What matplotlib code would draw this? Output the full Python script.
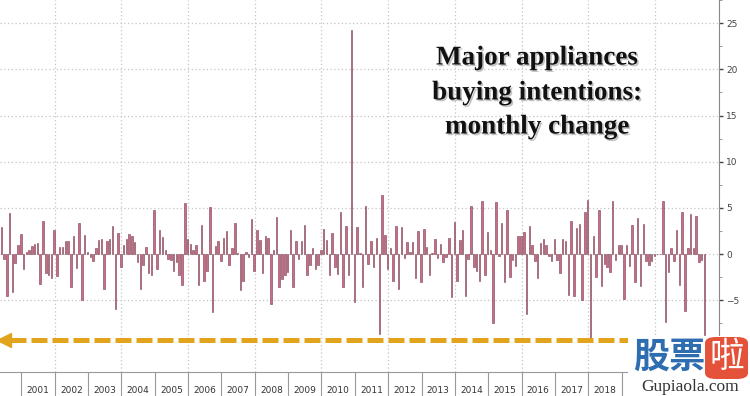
import matplotlib
matplotlib.use("Agg")
import matplotlib.pyplot as plt
import matplotlib.patheffects as pe
from matplotlib.patches import FancyBboxPatch, Rectangle
import numpy as np

# monthly change in major appliances buying intentions
changes = [
    2.9, -0.5, -4.5, 4.5, -4.1, -1.0, 1.0, 2.2, -1.6, 0.2, 0.5, 0.9, 1.1, 1.2, -3.2, 3.6,
    -2.0, -2.3, -2.6, 2.6, -2.4, 0.8, 0.8, 1.4, 1.4, -3.6, 2.0, -1.5, 3.4, -5.0, 2.1, 0.2,
    -0.3, -0.7, 0.7, 1.5, 1.6, -3.8, 1.4, 1.6, 3.1, -5.9, 2.3, -1.4, 1.0,
    1.6, 2.2, 2.0, 1.3, -0.9, -3.8, -1.2, 0.8, -2.0, -2.3, 4.8, -1.6, 2.6, 1.9, 0.5,
    -0.5, -0.6, -1.8, -0.9, -2.3, -3.3, 5.5, 1.6, 1.1, 0.5, 1.0, -3.3, 3.2, -2.9, -1.8,
    5.1, -6.3, 0.9, 1.4, -0.7, 1.8, 2.5, -1.2, 0.7, 3.4, 0.1, -3.9, -2.9, 0.2, -0.3,
    3.8, -1.8, 2.6, 1.5, -2.0, 2.0, 1.8, -5.4, 0.4, 4.0, -3.5, -2.7, -2.3, -1.9, 2.6,
    -3.5, 1.4, -0.5, 1.4, 3.2, -2.3, -1.2, 0.7, -1.6, -1.2, 0.5, 2.7, 1.5, -2.3, 2.3,
    -1.4, -2.1, 4.6, -3.6, 3.1, -2.3, 24.2, -5.2, 2.9, 0.1, -3.6, 5.2, -1.1, 1.4, -1.4,
    1.7, -8.6, 6.4, 2.1, -1.6, 0.7, -2.9, 3.0, -3.8, 2.9, -0.4, 1.3, 0.2, 1.3, -2.6,
    2.5, -3.0, 2.7, 0.8, -2.3, 0.1, 1.6, -0.4, 1.1, -0.8, -0.3, 1.7, -4.6, 3.5, -2.9,
    1.5, 2.6, -4.5, -0.5, 5.2, -1.4, -1.8, -2.9, 5.8, -2.3, 2.4, 0.5, -7.4, 5.6, -0.2,
    3.4, -3.0, 4.8, -2.5, -0.6, -1.3, 2.0, 2.0, 2.4, -6.5, 3.1, 1.0, -0.7, -2.6, 1.2,
    1.6, 1.0, -0.2, -0.7, 1.6, -0.6, -2.0, 1.6, 1.4, -4.4, 3.6, -4.5, 2.8, 3.3, -5.0,
    4.6, 5.9, -9.1, 2.0, -2.5, 4.8, -3.4, -1.1, -1.4, -1.9, 5.8, -0.6, 1.0, 1.0, -4.8, 1.0,
    -1.3, 3.2, -3.0, 3.9, -3.4, 3.3, -0.7, -1.2, -0.7, -0.2, 0.0, 0.0, 5.7, -7.3,
    -1.9, 0.7, -0.7, 2.6, -3.3, 4.6, -6.2, 0.7, 4.3, 0.7, 4.1, -0.9, -0.6, -8.8,
]
first_year = 2000.40
years = list(range(2001, 2022))
labelled_years = list(range(2001, 2019))  # later labels sit under the watermark
y_ticks = [-5, 0, 5, 10, 15, 20, 25]
arrow_level = -9.3

x = first_year + np.arange(len(changes)) / 12

fig = plt.figure(figsize=(7.5, 3.96), dpi=100)
ax = fig.add_axes([0, 24 / 396, 719 / 750, 372 / 396])

ax.bar(x, changes, width=0.045, color="#c96e86", edgecolor="#7b3d52", linewidth=0.4, zorder=3)

# orange dashed arrow
ax.plot([first_year + 0.25, 2022.5], [arrow_level] * 2, color="#e2a41d", lw=3.6,
        ls=(0, (3.2, 1.0)), solid_capstyle="round", zorder=4)
ax.plot([first_year + 0.08], [arrow_level], marker="<", ms=10, color="#e2a41d", zorder=4)

ax.set_xlim(2000.36, 2021.92)
ax.set_ylim(-12.75, 27.14)

ax.yaxis.tick_right()
ax.set_yticks(y_ticks)
ax.set_yticks(np.arange(-10, 27.6, 2.5), minor=True)
ax.tick_params(axis="y", which="major", labelsize=6.5, labelcolor="#444444", color="#444444",
               length=3, width=1, pad=2)
ax.tick_params(axis="y", which="minor", length=2, color="#888888")

ax.set_xticks(years)
ax.set_xticklabels([])
ax.set_xticks([y + 0.5 for y in labelled_years], minor=True)
ax.set_xticklabels([str(y) for y in labelled_years], minor=True)
ax.tick_params(axis="x", which="major", length=18, color="#999999", width=0.8)
ax.tick_params(axis="x", which="minor", length=0, labelsize=6.5, labelcolor="#333333", pad=10)

for v in y_ticks:
    ax.axhline(v, color="#c4c4c4", lw=0.9, ls=(0, (1, 2)), zorder=1)
for yr in range(2002, 2022, 2):
    ax.axvline(yr, color="#c4c4c4", lw=0.9, ls=(0, (1, 2)), zorder=1)

for s in ["left", "top"]:
    ax.spines[s].set_visible(False)
ax.spines["right"].set_color("#888888")
ax.spines["bottom"].set_color("#999999")
ax.spines["bottom"].set_linewidth(0.8)

shadow = [pe.withSimplePatchShadow(offset=(1.2, -1.2), shadow_rgbFace="#888888", alpha=0.5)]
for line, ypix in [("Major appliances", 58), ("buying intentions:", 93), ("monthly change", 127)]:
    fig.text(537 / 750, 1 - ypix / 396, line, ha="center", va="center", fontsize=19.5,
             fontweight="bold", family="Liberation Serif", color="#111111", path_effects=shadow)

# watermark
fig.patches.append(Rectangle((628 / 750, 0), 122 / 750, 60 / 396, transform=fig.transFigure,
                             facecolor="white", edgecolor="none", zorder=10))
fig.text(669 / 750, 1 - 357 / 396, "股票", ha="center", va="center", fontsize=26,
         fontweight="bold", family="Noto Sans CJK SC", color="#2e6db0", zorder=11)
fig.patches.append(FancyBboxPatch((705 / 750, 1 - 379 / 396), 43 / 750, 42 / 396,
                                  boxstyle="round,pad=0,rounding_size=0.015",
                                  transform=fig.transFigure, facecolor="#e5523a",
                                  edgecolor="none", zorder=11))
fig.text(726.5 / 750, 1 - 357 / 396, "啦", ha="center", va="center", fontsize=25,
         family="Noto Sans CJK SC", color="white", zorder=12)
fig.text(690 / 750, 1 - 387 / 396, "Gupiaola.com", ha="center", va="center", fontsize=12.5,
         family="Liberation Serif", color="#333333", zorder=11)

fig.savefig("out.png", dpi=100)
